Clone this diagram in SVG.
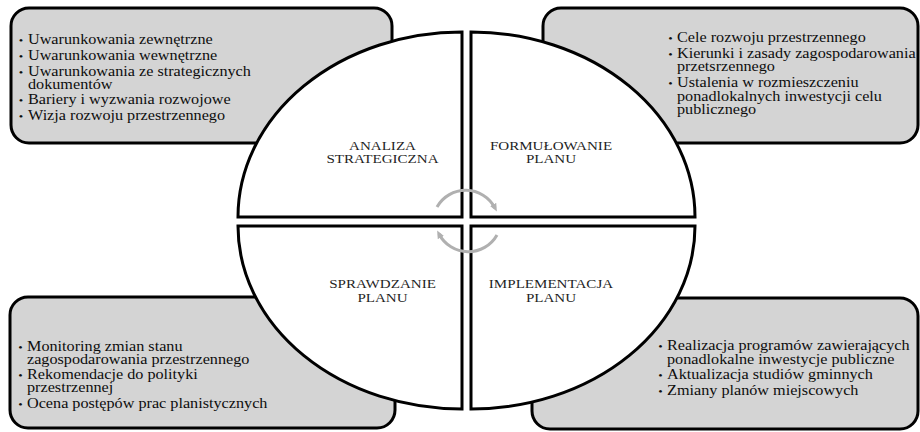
<svg xmlns="http://www.w3.org/2000/svg" width="920" height="432" viewBox="0 0 920 432">
<style>
.box{fill:#d4d4d4;stroke:#000;stroke-width:3}
.quad{fill:#fff;stroke:#000;stroke-width:3;stroke-linejoin:miter}
.arc{fill:none;stroke:#b0b0b0;stroke-width:3}
.t{font-family:"Liberation Serif","Times New Roman",serif;font-size:14px;fill:#0d0d0d}
.b{font-size:11px}
.lbl{font-family:"Liberation Serif","Times New Roman",serif;font-size:13px;fill:#1f1f1f;text-anchor:middle}
</style>
<defs>
<marker id="ah" markerWidth="8" markerHeight="8" refX="4" refY="4" orient="auto" markerUnits="userSpaceOnUse">
<path d="M0,0.5 L8,4 L0,7.5 Z" fill="#b0b0b0"/>
</marker>
</defs>
<rect width="920" height="432" fill="#fff"/>

<g id="box-tl"><rect class="box" x="11" y="8" width="381" height="135" rx="18"/></g>
<g id="box-tr"><rect class="box" x="543" y="8" width="375" height="135" rx="18"/></g>
<g id="box-bl"><rect class="box" x="10" y="297" width="385" height="131" rx="18"/></g>
<g id="box-br"><rect class="box" x="532" y="298" width="386" height="131" rx="18"/></g>

<g id="quad-tl"><path class="quad" d="M462 217 L238 217 A224 185 0 0 1 462 32 Z"/>
<text class="lbl" transform="translate(382.5 0) scale(1.16 1)"><tspan x="0" y="150">ANALIZA</tspan><tspan x="0" y="163.5">STRATEGICZNA</tspan></text></g>
<g id="quad-tr"><path class="quad" d="M471 217 L471 32 A224 185 0 0 1 695 217 Z"/>
<text class="lbl" transform="translate(551 0) scale(1.16 1)"><tspan x="0" y="150">FORMUŁOWANIE</tspan><tspan x="0" y="163.5">PLANU</tspan></text></g>
<g id="quad-bl"><path class="quad" d="M462 226 L462 409 A224 183 0 0 1 238 226 Z"/>
<text class="lbl" transform="translate(382.5 0) scale(1.16 1)"><tspan x="0" y="288.5">SPRAWDZANIE</tspan><tspan x="0" y="302">PLANU</tspan></text></g>
<g id="quad-br"><path class="quad" d="M471 226 L695 226 A224 183 0 0 1 471 409 Z"/>
<text class="lbl" transform="translate(551 0) scale(1.16 1)"><tspan x="0" y="288.5">IMPLEMENTACJA</tspan><tspan x="0" y="302">PLANU</tspan></text></g>

<g id="connectors">
<path class="arc" d="M437 207 A33 33 0 0 1 495 208" marker-end="url(#ah)"/>
<path class="arc" d="M497 235 A33 33 0 0 1 439 234" marker-end="url(#ah)"/>
</g>

<g id="text-tl" transform="translate(28 0) scale(1.157 1)">
<text class="t"><tspan class="b" x="-8" y="44">•</tspan><tspan x="0" y="44">Uwarunkowania zewnętrzne</tspan><tspan class="b" x="-8" y="60">•</tspan><tspan x="0" y="60">Uwarunkowania wewnętrzne</tspan><tspan class="b" x="-8" y="76">•</tspan><tspan x="0" y="76">Uwarunkowania ze strategicznych</tspan><tspan x="0" y="89.5">dokumentów</tspan><tspan class="b" x="-8" y="104.5">•</tspan><tspan x="0" y="104.5">Bariery i wyzwania rozwojowe</tspan><tspan class="b" x="-8" y="120">•</tspan><tspan x="0" y="120">Wizja rozwoju przestrzennego</tspan></text>
</g>
<g id="text-tr" transform="translate(677 0) scale(1.157 1)">
<text class="t"><tspan class="b" x="-7.5" y="42.5">•</tspan><tspan x="0" y="42.5">Cele rozwoju przestrzennego</tspan><tspan class="b" x="-7.5" y="58.5">•</tspan><tspan x="0" y="58.5">Kierunki i zasady zagospodarowania</tspan><tspan x="0" y="71.5">przetsrzennego</tspan><tspan class="b" x="-7.5" y="87.5">•</tspan><tspan x="0" y="87.5">Ustalenia w rozmieszczeniu</tspan><tspan x="0" y="101">ponadlokalnych inwestycji celu</tspan><tspan x="0" y="114.5">publicznego</tspan></text>
</g>
<g id="text-bl" transform="translate(27 0) scale(1.157 1)">
<text class="t"><tspan class="b" x="-7.5" y="351">•</tspan><tspan x="0" y="351">Monitoring zmian stanu</tspan><tspan x="0" y="364">zagospodarowania przestrzennego</tspan><tspan class="b" x="-7.5" y="379.5">•</tspan><tspan x="0" y="379.5">Rekomendacje do polityki</tspan><tspan x="0" y="392.5">przestrzennej</tspan><tspan class="b" x="-7.5" y="408">•</tspan><tspan x="0" y="408">Ocena postępów prac planistycznych</tspan></text>
</g>
<g id="text-br" transform="translate(667 0) scale(1.157 1)">
<text class="t"><tspan class="b" x="-7.5" y="350.5">•</tspan><tspan x="0" y="350.5">Realizacja programów zawierających</tspan><tspan x="0" y="364">ponadlokalne inwestycje publiczne</tspan><tspan class="b" x="-7.5" y="379.5">•</tspan><tspan x="0" y="379.5">Aktualizacja studiów gminnych</tspan><tspan class="b" x="-7.5" y="395">•</tspan><tspan x="0" y="395">Zmiany planów miejscowych</tspan></text>
</g>
</svg>
